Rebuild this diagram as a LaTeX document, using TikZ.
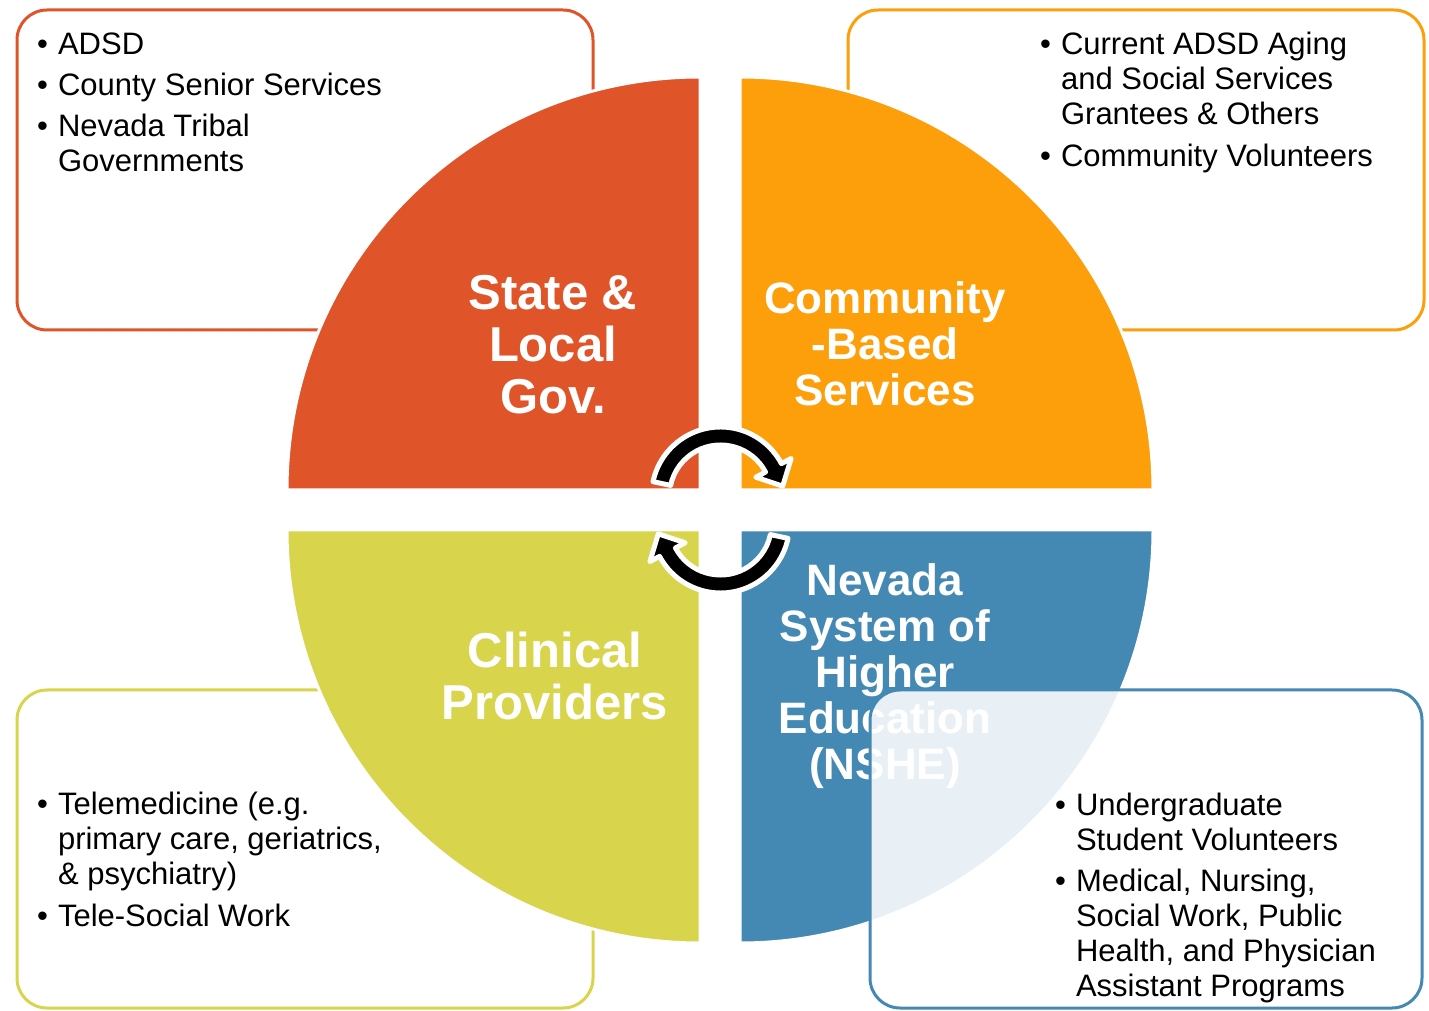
\documentclass[tikz,border=0pt]{standalone}
\usepackage{fontspec}
\setmainfont{Liberation Sans}
\usepackage{xcolor}
\usetikzlibrary{positioning}

\definecolor{govred}{HTML}{E0542A}
\definecolor{commorange}{HTML}{FC9F0A}
\definecolor{clinyellow}{HTML}{D8D44B}
\definecolor{nshblue}{HTML}{4389B3}

\begin{document}
\begin{tikzpicture}[x=1pt, y=1pt,
  infobox/.style={rounded corners=30pt, line width=3pt},
  quarter/.style={draw=white, line width=3pt},
  heading/.style={text=white, align=center, font=\bfseries\fontsize{44}{46}\selectfont},
  bigheading/.style={heading, font=\bfseries\fontsize{49}{52}\selectfont},
  bullets/.style={anchor=base west, inner sep=0pt, font=\fontsize{31}{35}\selectfont},
  turn/.style={fill=black, draw=white, line width=5pt, line join=round}]

\useasboundingbox (0,0) rectangle (1429,1010);

% Outer boxes (behind the circle)
\draw[infobox, draw=govred, fill=white] (17,1000) rectangle (593,680);
\draw[infobox, draw=commorange, fill=white] (848,1000) rectangle (1424,680);
\draw[infobox, draw=clinyellow, fill=white] (17,320) rectangle (593,2);

% Quarters
\filldraw[quarter, fill=govred] (700,520) -- (287,520) arc[start angle=180, end angle=90, radius=413] -- cycle;
\filldraw[quarter, fill=commorange] (740,520) -- (740,933) arc[start angle=90, end angle=0, radius=413] -- cycle;
\filldraw[quarter, fill=clinyellow] (700,480) -- (287,480) arc[start angle=180, end angle=270, radius=413] -- cycle;
\filldraw[quarter, fill=nshblue] (740,480) -- (1153,480) arc[start angle=0, end angle=-90, radius=413] -- cycle;

% Headings
\node[bigheading] (gov) at (553,665) {State \&\\Local\\Gov.};
\node[heading] (comm) at (885,666) {Community\\-Based\\Services};
\node[bigheading] (clin) at (555,334) {Clinical\\Providers};
\node[heading] (nshe) at (885,334) {Nevada\\System of\\Higher\\Education\\(NSHE)};

% NSHE box lies over the blue quarter
\draw[infobox, draw=nshblue, fill=white, fill opacity=0.88] (870,320) rectangle (1422,2);

% Lists
\node[bullets] (govlist) at (37,955) {\begin{tabular}[t]{@{}l@{\hspace{10pt}}l@{}}
\textbullet & ADSD\\[6pt]
\textbullet & County Senior Services\\[6pt]
\textbullet & Nevada Tribal\\
 & Governments
\end{tabular}};

\node[bullets] (commlist) at (1040,955) {\begin{tabular}[t]{@{}l@{\hspace{10pt}}l@{}}
\textbullet & Current ADSD Aging\\
 & and Social Services\\
 & Grantees \& Others\\[7pt]
\textbullet & Community Volunteers
\end{tabular}};

\node[bullets] (clinlist) at (37,196) {\begin{tabular}[t]{@{}l@{\hspace{10pt}}l@{}}
\textbullet & Telemedicine (e.g.\\
 & primary care, geriatrics,\\
 & \& psychiatry)\\[7pt]
\textbullet & Tele-Social Work
\end{tabular}};

\node[bullets] (nshelist) at (1055,195) {\begin{tabular}[t]{@{}l@{\hspace{10pt}}l@{}}
\textbullet & Undergraduate\\
 & Student Volunteers\\[6pt]
\textbullet & Medical, Nursing,\\
 & Social Work, Public\\
 & Health, and Physician\\
 & Assistant Programs
\end{tabular}};

% Cycle arrows
\foreach \hy/\rot in {514/0, 486/180}
  \filldraw[turn, shift={(720.5,\hy)}, rotate=\rot]
    (168:69) arc[start angle=168, end angle=28, radius=69] -- (28:80) -- (9:63)
    -- (28:40) -- (28:51) arc[start angle=28, end angle=168, radius=51] -- cycle;

\end{tikzpicture}
\end{document}
